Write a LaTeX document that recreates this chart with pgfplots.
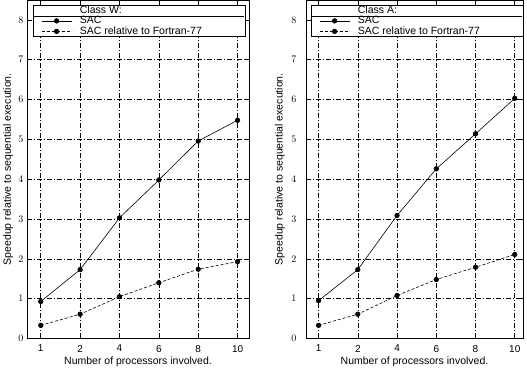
\documentclass[border=0pt]{standalone}
\usepackage{pgfplots}
\pgfplotsset{compat=1.18}
\usepackage{fontspec}
\setmainfont{Liberation Sans}

\pgfplotstableread{
x sac rel
0 0.93 0.33
1 1.73 0.61
2 3.03 1.05
3 3.98 1.40
4 4.96 1.74
5 5.48 1.93
}\classW
\pgfplotstableread{
x sac rel
0 0.95 0.33
1 1.73 0.61
2 3.09 1.08
3 4.26 1.48
4 5.14 1.79
5 6.03 2.11
}\classA

\newcommand{\lent}[1]{\makebox[157pt][l]{#1}}

\pgfplotsset{
  myaxis/.style={
    scale only axis,
    height=338.5pt,
    ymin=0, ymax=8.5, ytick={0,1,...,8},
    xtick={0,1,...,5}, xticklabels={1,2,4,6,8,10},
    tick align=inside, major tick length=4pt,
    tick style={black, line width=0.6pt},
    xtick pos=both, ytick pos=both,
    grid=major,
    major grid style={black, line width=0.6pt, dash pattern=on 5pt off 2pt on 1pt off 2pt},
    axis line style={line width=0.8pt},
    tick label style={font=\fontsize{10}{12}\selectfont},
    xticklabel style={yshift=-3pt},
    label style={font=\fontsize{10.5}{12}\selectfont},
    xlabel={Number of processors involved.},
    ylabel={Speedup relative to sequential execution.},
    xlabel style={yshift=2pt},
    legend cell align=left,
    legend style={anchor=north west, draw=black, line width=0.6pt, fill=white,
      inner xsep=8pt, inner ysep=0.5pt, row sep=1.5pt, column sep=8pt,
      font=\fontsize{10.5}{11}\selectfont,
      nodes={inner sep=0pt, text height=7.5pt, text depth=1.5pt}},
    legend image code/.code={\draw[mark repeat=2,mark phase=2,##1] plot coordinates {(0pt,0pt)(15pt,0pt)(30pt,0pt)};},
  },
  sacline/.style={black, line width=0.6pt, mark=*, mark size=2.3pt, mark options={solid}},
  relline/.style={black, line width=0.6pt, dash pattern=on 3pt off 2pt, mark=*, mark size=2.3pt, mark options={solid}},
}

\begin{document}
\begin{tikzpicture}[x=1pt,y=1pt]
\useasboundingbox (0,0) rectangle (527,371);
\begin{axis}[myaxis, name=L, at={(27pt,32.5pt)}, anchor=south west, width=222pt,
  xmin=-0.35, xmax=5.29,
  ylabel style={at={(axis description cs:-0.085,0.5)}, anchor=center},
  legend style={at={(axis description cs:0.027,0.985)}}]
\addlegendimage{empty legend}\addlegendentry{\lent{Class W:}}
\addplot[sacline] table[x=x,y=sac]{\classW};
\addlegendentry{\lent{SAC}}
\addplot[relline] table[x=x,y=rel]{\classW};
\addlegendentry{\lent{SAC relative to Fortran-77}}
\end{axis}
\draw[line width=0.6pt] ([shift={(6pt,-16pt)}]L.north west) -- ++(211pt,0);

\begin{axis}[myaxis, name=R, at={(306pt,32.5pt)}, anchor=south west, width=217pt,
  xmin=-0.32, xmax=5.21,
  yticklabel style={xshift=-6pt},
  ylabel style={at={(axis description cs:-0.12,0.5)}, anchor=center},
  legend style={at={(axis description cs:0.023,0.985)}}]
\addlegendimage{empty legend}\addlegendentry{\lent{Class A:}}
\addplot[sacline] table[x=x,y=sac]{\classA};
\addlegendentry{\lent{SAC}}
\addplot[relline] table[x=x,y=rel]{\classA};
\addlegendentry{\lent{SAC relative to Fortran-77}}
\end{axis}
\draw[line width=0.6pt] ([shift={(5pt,-16pt)}]R.north west) -- ++(211pt,0);
\end{tikzpicture}
\end{document}
